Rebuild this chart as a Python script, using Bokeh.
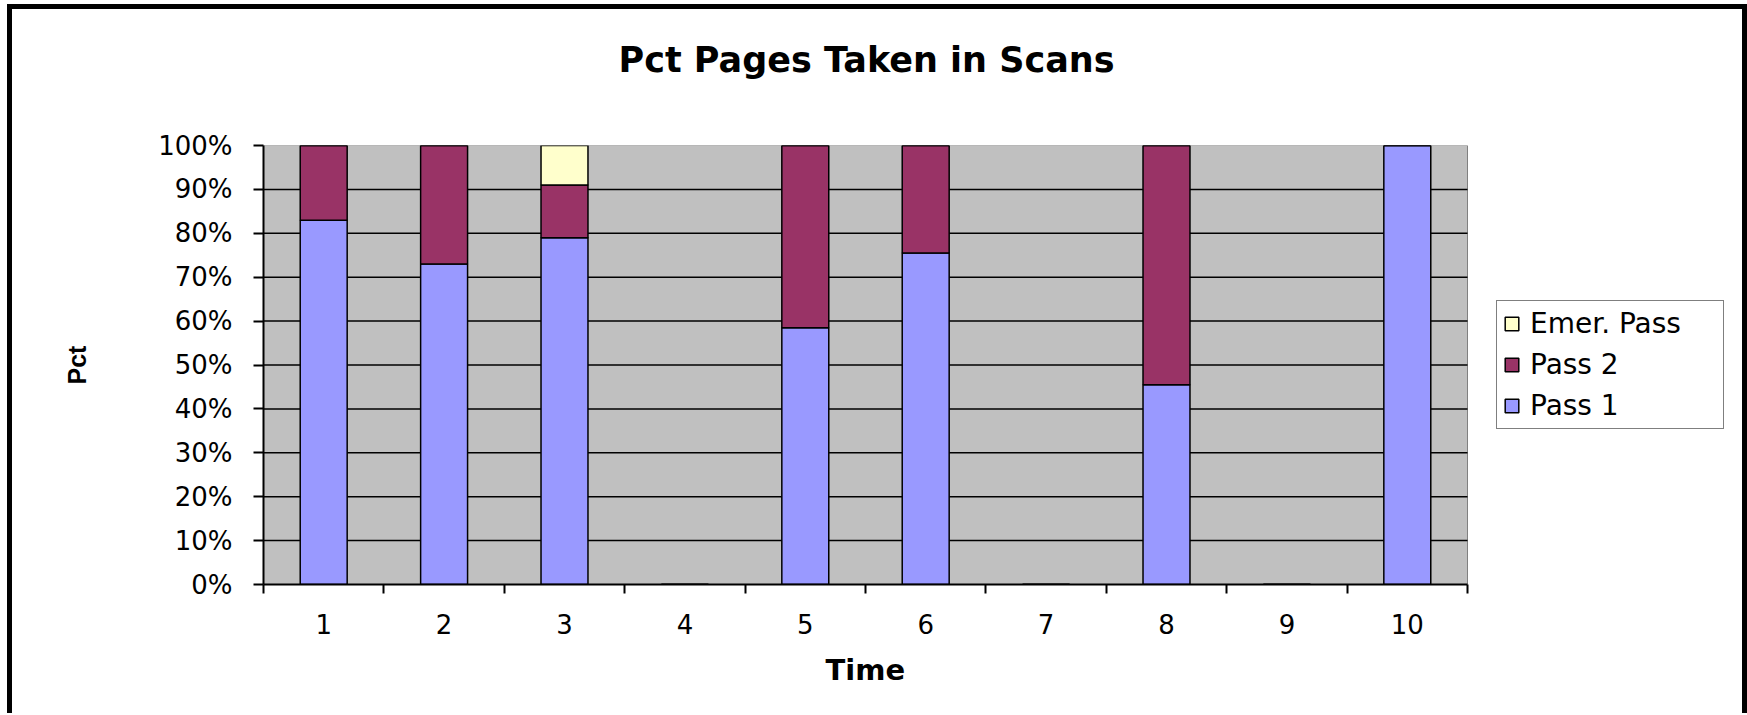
from bokeh.plotting import figure
from bokeh.models import (ColumnDataSource, Range1d, FixedTicker, PrintfTickFormatter,
                          Legend, LegendItem, Title)
from bokeh.embed import file_html
from bokeh.resources import INLINE

# ---- data ----
times = [1, 2, 3, 4, 5, 6, 7, 8, 9, 10]
pass1 = [83, 73, 79, 0, 58.5, 75.5, 0, 45.5, 0, 100]
pass2 = [17, 27, 12, 0, 41.5, 24.5, 0, 54.5, 0, 0]
emer = [0, 0, 9, 0, 0, 0, 0, 0, 0, 0]
series_keys = ["pass1", "pass2", "emer"]
series_names = ["Pass 1", "Pass 2", "Emer. Pass"]
series_colors = ["#9999FF", "#993366", "#FFFFCC"]
y_ticks = [0, 10, 20, 30, 40, 50, 60, 70, 80, 90, 100]
x_bounds = [t - 0.5 for t in times] + [times[-1] + 0.5]

source = ColumnDataSource(data=dict(time=times, pass1=pass1, pass2=pass2, emer=emer))

# ---- layout constants (pixels) ----
W, H = 1730, 704
FL, FR, FT, FB = 251, 5, 136, 129          # frame borders
CAT_PX = 120.4                              # pixel width of one category
x_lo, x_hi = x_bounds[0], x_bounds[-1]
frame_w = W - FL - FR
x_end = x_lo + frame_w / CAT_PX

p = figure(width=W, height=H, output_backend="svg", toolbar_location=None,
           x_range=Range1d(x_lo, x_end), y_range=Range1d(y_ticks[0], y_ticks[-1]),
           min_border_left=FL, min_border_right=FR,
           min_border_top=FT, min_border_bottom=FB)

p.styles = {"margin-left": "12px", "margin-top": "9px",
            "box-shadow": "-5px 0 0 0 black, 5px 0 0 0 black, 0 -5px 0 0 black, "
                          "-5px -5px 0 0 black, 5px -5px 0 0 black"}

p.background_fill_color = "white"
p.border_fill_color = "white"
p.outline_line_color = None

# gray plot area
p.quad(left=[x_lo], right=[x_hi], bottom=[y_ticks[0]], top=[y_ticks[-1]],
       fill_color="#C0C0C0", line_color="#808080", line_width=1, level="image")

# horizontal grid lines limited to the plot area
grid_y = y_ticks[1:-1]
p.segment(x0=[x_lo] * len(grid_y), x1=[x_hi] * len(grid_y), y0=grid_y, y1=grid_y,
          line_color="black", line_width=1.5, level="underlay")

# title (spacer title keeps it high above the frame)
p.add_layout(Title(text=" ", text_font_size="1px", standoff=58), "above")
p.title.text = "Pct Pages Taken in Scans"
p.title.align = "left"
p.title.offset = 355
p.title.text_font = "DejaVu Sans"
p.title.text_font_size = "35px"
p.title.text_font_style = "bold"
p.title.text_color = "black"
p.title.standoff = 10

# bars
renderers = p.vbar_stack(series_keys, x="time", width=0.39, color=series_colors,
                         line_color="black", line_width=1.5, source=source)

# x axis
xa = p.xaxis[0]
xa.bounds = (x_lo, x_hi)
xa.ticker = FixedTicker(ticks=times, minor_ticks=x_bounds)
xa.major_tick_in = 0
xa.major_tick_out = 0
xa.minor_tick_in = 0
xa.minor_tick_out = 9
xa.minor_tick_line_color = "black"
xa.minor_tick_line_width = 2
xa.axis_line_color = "black"
xa.axis_line_width = 2
xa.major_label_text_font = "DejaVu Sans"
xa.major_label_text_font_size = "26px"
xa.major_label_text_color = "black"
xa.major_label_standoff = 20

# x axis title as a below-title (so it can be centred under the plot area)
p.add_layout(Title(text="Time", align="left", offset=562, standoff=28,
                   text_font="DejaVu Sans", text_font_size="29px",
                   text_font_style="bold", text_color="black"), "below")

# y axis
ya = p.yaxis[0]
ya.ticker = FixedTicker(ticks=y_ticks, minor_ticks=[])
ya.formatter = PrintfTickFormatter(format="%d%%")
ya.major_tick_in = 0
ya.major_tick_out = 10
ya.major_tick_line_color = "black"
ya.major_tick_line_width = 2
ya.minor_tick_line_color = None
ya.axis_line_color = "black"
ya.axis_line_width = 2
ya.major_label_text_font = "DejaVu Sans"
ya.major_label_text_font_size = "26px"
ya.major_label_text_color = "black"
ya.major_label_standoff = 21
ya.axis_label = "Pct"
ya.axis_label_text_font = "Liberation Sans"
ya.axis_label_text_font_size = "25px"
ya.axis_label_text_font_style = "bold"
ya.axis_label_text_color = "black"
ya.axis_label_standoff = 64

p.xgrid.visible = False
p.ygrid.visible = False

# legend (reverse order like reference)
items = [LegendItem(label=series_names[i], renderers=[renderers[i]]) for i in (2, 1, 0)]
legend = Legend(items=items, location=(1233, 155))
legend.label_text_font = "DejaVu Sans"
legend.label_text_font_size = "28px"
legend.label_text_color = "black"
legend.label_width = 187
legend.glyph_width = 17
legend.glyph_height = 17
legend.label_standoff = 10
legend.padding = 6
legend.spacing = 8
legend.margin = 0
legend.border_line_color = "black"
legend.border_line_width = 1.5
legend.background_fill_color = "white"
legend.background_fill_alpha = 1
p.add_layout(legend)

open("out.html", "w").write(file_html(p, INLINE))
